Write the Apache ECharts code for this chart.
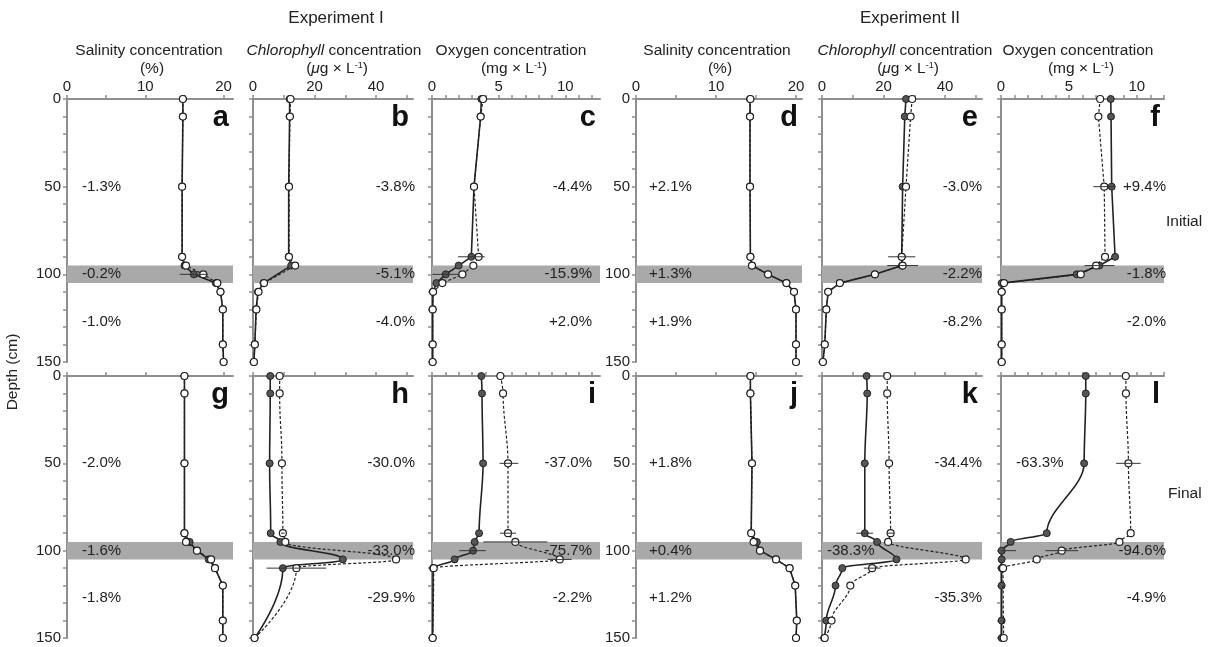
<!DOCTYPE html>
<html><head><meta charset="utf-8">
<script src="https://cdn.jsdelivr.net/npm/echarts@6/dist/echarts.min.js"></script>
<style>html,body{margin:0;padding:0;background:#fff}#c{width:1209px;height:647px}</style>
</head><body><div id="c"></div>
<script>
// ---------------- DATA ----------------
const depths = [0, 10, 50, 90, 95, 100, 105, 110, 120, 140, 150];
// solid line = filled markers, dashed line = open markers (null = no sample)
const aSolid = [14.8, 14.8, 14.7, 14.7, 15.0, 16.2, 19.0, 19.6, 19.9, 19.9, 20.0];
const aDash  = [14.8, 14.8, 14.7, 14.7, 15.2, 17.4, 19.2, 19.6, 19.9, 19.9, 20.0];
const bSolid = [11.9, 11.9, 11.6, 11.6, 12.4, null, 3.4, 1.6, 1.0, 0.6, 0.3];
const bDash  = [12.2, 12.0, 11.7, 11.7, 13.7, null, 3.6, 1.8, 1.1, 0.6, 0.3];
const cSolid = [3.7, 3.65, 3.15, 2.95, 2.0, 1.03, 0.33, 0.08, 0.05, 0.05, 0.05];
const cDash  = [3.83, 3.65, 3.15, 3.5, 3.1, 2.28, 0.78, 0.08, 0.05, 0.05, 0.05];
const dSolid = [14.25, 14.25, 14.25, 14.3, 14.5, 16.5, 18.8, 19.75, 20.0, 20.0, 20.0];
const dDash  = [14.3, 14.25, 14.25, 14.3, 14.5, 16.5, 18.8, 19.75, 20.0, 20.0, 20.0];
const eSolid = [27.3, 26.9, 26.2, 25.9, 26.0, 17.2, 5.8, 2.0, 1.4, 0.9, 0.3];
const eDash  = [29.3, 28.8, 27.3, 25.9, 26.2, 17.2, 5.8, 2.0, 1.4, 0.9, 0.3];
const fSolid = [8.08, 8.1, 8.15, 8.4, 7.25, 5.58, 0.05, 0.05, 0.05, 0.05, 0.05];
const fDash  = [7.3, 7.17, 7.6, 7.66, 7.0, 5.87, 0.22, 0.05, 0.05, 0.05, 0.05];
const gSolid = [15.0, 15.0, 15.0, 15.0, 15.66, 16.6, 18.1, 18.9, 19.9, 19.9, 19.9];
const gDash  = [15.0, 15.0, 15.0, 15.0, 15.2, 16.6, 18.4, 18.9, 19.9, 19.9, 19.9];
const hSolid = [5.6, 5.6, 5.4, 5.75, 8.9, null, 29.2, 9.7, null, null, 0.5];
const hDash  = [8.66, 8.66, 9.4, 9.7, 10.5, null, 46.5, 14.1, null, null, 0.5];
const iSolid = [3.7, 3.75, 3.83, 3.53, 3.2, 3.08, 1.7, 0.08, null, null, 0.05];
const iDash  = [5.13, 5.33, 5.7, 5.7, 6.25, null, 9.58, 0.13, null, null, 0.05];
const jSolid = [14.3, 14.3, 14.5, 14.4, 15.1, 15.5, 17.5, 19.2, 19.9, 20.1, 20.0];
const jDash  = [14.3, 14.3, 14.5, 14.4, 14.7, 15.5, 17.5, 19.2, 19.9, 20.1, 20.0];
const kSolid = [14.5, 14.7, 13.9, 13.9, 17.9, null, 24.2, 6.6, 4.4, 1.4, 0.7];
const kDash  = [21.2, 21.2, 21.8, 22.3, 21.5, null, 46.7, 16.3, 9.2, 3.1, 0.9];
const lSolid = [6.24, 6.24, 6.12, 3.37, 0.71, 0.05, 0.05, 0.05, 0.05, 0.05, 0.05];
const lDash  = [9.19, 9.2, 9.38, 9.55, 8.72, 4.47, 2.63, 0.15, null, null, 0.2];

// error bars: [panel, depth, centre, half-width]
const errBars = [
  [0, 100, 16.2, 1.8],
  [2, 90, 2.95, 1.0], [2, 100, 1.03, 1.0],
  [4, 90, 25.9, 4.4], [4, 95, 26.2, 5.0],
  [5, 50, 7.6, 0.8], [5, 95, 7.25, 1.1],
  [7, 90, 9.7, 0.6], [7, 110, 14.1, 9.7],
  [8, 50, 5.77, 0.7], [8, 90, 5.7, 0.6], [8, 95, 6.25, 2.4], [8, 100, 3.05, 1.0], [8, 105, 9.58, 0.9],
  [10, 90, 13.9, 2.7], [10, 90, 22.3, 1.2], [10, 110, 16.3, 2.7],
  [11, 50, 9.38, 0.9], [11, 100, 4.47, 1.2], [11, 100, 0.3, 0.8]
];

const panelLetters = ['a','b','c','d','e','f','g','h','i','j','k','l'];
const pctTop = ['-1.3%','-3.8%','-4.4%','+2.1%','-3.0%','+9.4%','-2.0%','-30.0%','-37.0%','+1.8%','-34.4%','-63.3%'];
const pctMid = ['-0.2%','-5.1%','-15.9%','+1.3%','-2.2%','-1.8%','-1.6%','-33.0%','-75.7%','+0.4%','-38.3%','-94.6%'];
const pctBot = ['-1.0%','-4.0%','+2.0%','+1.9%','-8.2%','-2.0%','-1.8%','-29.9%','-2.2%','+1.2%','-35.3%','-4.9%'];
const colTitles = ['Salinity concentration','{i|Chlorophyll} concentration','Oxygen concentration',
                   'Salinity concentration','{i|Chlorophyll} concentration','Oxygen concentration'];
const colUnits = ['(%)','({i|μ}g × L{s|-1})','(mg × L{s|-1})','(%)','({i|μ}g × L{s|-1})','(mg × L{s|-1})'];
const expTitles = ['Experiment I', 'Experiment II'];
const rowTitles = ['Initial', 'Final'];
const depthTitle = 'Depth (cm)';
const xMax = [21.2, 52, 12.6, 20.75, 52, 12];
const xTickStep = [5, 10, 1, 5, 10, 1];
const xLabelStep = [10, 20, 5, 10, 20, 5];

// ---------------- LAYOUT ----------------
const FONT = '"Liberation Sans", Arial, Helvetica, sans-serif';
const cols = [{left:67,width:166},{left:253,width:160},{left:432,width:168},{left:636,width:166},{left:822,width:160},{left:1001,width:163}];
const rows = [{top:99,height:263},{top:376,height:262}];
const solids = [aSolid,bSolid,cSolid,dSolid,eSolid,fSolid,gSolid,hSolid,iSolid,jSolid,kSolid,lSolid];
const dashes = [aDash,bDash,cDash,dDash,eDash,fDash,gDash,hDash,iDash,jDash,kDash,lDash];
const smoothPanels = {7:0.45, 8:0.35, 10:0.35, 11:0.35};
const pctAnchor = [['L','L','L'],['R','R','R'],['R','R','R'],['L','L','L'],['R','R','R'],['R','R','R'],
                   ['L','L','L'],['R','R','R'],['R','R','R'],['L','L','L'],['R','L','R'],['L','R','R']];
const leftOff = [15, 5, 5, 13, 5, 15];
const rightOff = [0, 2, -8, 0, 0, 2];

function range(max, step){ const a=[]; for(let v=0; v<=max+1e-9; v+=step) a.push(+v.toFixed(6)); return a; }
function pairs(vals){ const out=[]; vals.forEach((v,i)=>{ if(v!==null) out.push([v, depths[i]]); }); return out; }

const grids=[], xAxes=[], yAxes=[], series=[], graphics=[];
const axisGray = '#8f8f8f';
for (let r=0;r<2;r++) for (let c=0;c<6;c++){
  const idx=r*6+c;
  grids.push({left:cols[c].left, top:rows[r].top, width:cols[c].width, height:rows[r].height, show:false, outerBoundsMode:'none', containLabel:false});
  xAxes.push({
    type:'value', gridIndex:idx, position:'top', min:0, max:xMax[c], interval:xTickStep[c],
    splitLine:{show:false},
    axisLine:{show:true, onZero:false, lineStyle:{color:axisGray, width:2}},
    axisTick:{show:true, length:4, lineStyle:{color:axisGray, width:1.5}, customValues: range(xMax[c], xTickStep[c])},
    axisLabel:{show: r===0, margin:5, color:'#222', fontSize:15, fontFamily:FONT,
      customValues: range(xMax[c], xLabelStep[c]),
      formatter: v => (Math.abs(v % xLabelStep[c])<1e-6 ? String(v) : '')}
  });
  yAxes.push({
    type:'value', gridIndex:idx, inverse:true, min:0, max:150, interval:10,
    splitLine:{show:false},
    axisLine:{show:true, onZero:false, lineStyle:{color:axisGray, width:2}},
    axisTick:{show:true, length:4, lineStyle:{color:axisGray, width:1.5}},
    axisLabel:{show: c===0 || c===3, margin:6, color:'#222', fontSize:15, fontFamily:FONT,
      formatter: v => (v % 50 === 0 ? String(v) : '')}
  });
  const sm = smoothPanels[idx] || 0;
  series.push({
    type:'line', xAxisIndex:idx, yAxisIndex:idx, data:pairs(solids[idx]), z:3,
    symbol:'circle', symbolSize:7, smooth:sm, smoothMonotone: sm ? 'y' : undefined,
    itemStyle:{color:'#555', borderColor:'#222', borderWidth:1},
    lineStyle:{color:'#222', width:1.6}, animation:false, silent:true,
    markArea:{silent:true, itemStyle:{color:'#a9a9a9', opacity:1}, data:[[{yAxis:95},{yAxis:105}]]}
  });
  series.push({
    type:'line', xAxisIndex:idx, yAxisIndex:idx, data:pairs(dashes[idx]), z:4,
    symbol:'circle', symbolSize:7, smooth:sm, smoothMonotone: sm ? 'y' : undefined,
    itemStyle:{color:'#fff', borderColor:'#222', borderWidth:1.2},
    lineStyle:{color:'#222', width:1.2, type:[3,2]}, animation:false, silent:true
  });
  const eb = errBars.filter(e=>e[0]===idx).map(e=>[e[2], e[1], e[3]]);
  if (eb.length) series.push({
    type:'custom', xAxisIndex:idx, yAxisIndex:idx, data:eb, z:5, silent:true, animation:false,
    encode:{x:0, y:1},
    renderItem:(params, api)=>{
      const c0=api.value(0), d=api.value(1), h=api.value(2);
      const p1=api.coord([Math.max(0,c0-h), d]), p2=api.coord([c0+h, d]);
      return {type:'line', shape:{x1:p1[0],y1:p1[1],x2:p2[0],y2:p2[1]}, style:{stroke:'#333', lineWidth:1}};
    }
  });
  graphics.push({type:'text', x:cols[c].left+cols[c].width-4, y:rows[r].top+19, z:10,
    style:{text:panelLetters[idx], font:'bold 29px '+FONT, fill:'#111', textAlign:'right', textVerticalAlign:'middle'}});
  [[pctTop,50],[pctMid,100],[pctBot,127]].forEach(([arr,dep],k)=>{
    const a = pctAnchor[idx][k];
    const x = a==='L' ? cols[c].left+leftOff[c] : cols[c].left+cols[c].width+rightOff[c];
    graphics.push({type:'text', x:x, y:rows[r].top+dep/150*rows[r].height, z:10,
      style:{text:arr[idx], font:'15px '+FONT, fill:'#222', textAlign: a==='L'?'left':'right', textVerticalAlign:'middle'}});
  });
}
const colCenters=[149, 334, 511, 717, 905, 1078];
for (let c=0;c<6;c++){
  graphics.push({type:'text', x:colCenters[c], y:51, style:{text:colTitles[c], font:'15.5px '+FONT, fill:'#222',
    textAlign:'center', textVerticalAlign:'middle', rich:{i:{fontStyle:'italic', fontSize:15.5, fontFamily:FONT}}}});
  graphics.push({type:'text', x:colCenters[c]+3, y:69, style:{text:colUnits[c], font:'15.5px '+FONT, fill:'#222',
    textAlign:'center', textVerticalAlign:'middle',
    rich:{i:{fontStyle:'italic', fontSize:15.5, fontFamily:FONT}, s:{fontSize:9, fontFamily:FONT, verticalAlign:'top'}}}});
}
graphics.push({type:'text', x:336, y:18, style:{text:expTitles[0], font:'17px '+FONT, fill:'#222', textAlign:'center', textVerticalAlign:'middle'}});
graphics.push({type:'text', x:910, y:18, style:{text:expTitles[1], font:'17px '+FONT, fill:'#222', textAlign:'center', textVerticalAlign:'middle'}});
graphics.push({type:'text', x:1166, y:222, style:{text:rowTitles[0], font:'15.5px '+FONT, fill:'#222', textAlign:'left', textVerticalAlign:'middle'}});
graphics.push({type:'text', x:1168, y:494, style:{text:rowTitles[1], font:'15.5px '+FONT, fill:'#222', textAlign:'left', textVerticalAlign:'middle'}});
graphics.push({type:'text', x:13, y:372, rotation:Math.PI/2, style:{text:depthTitle, font:'15.5px '+FONT, fill:'#222', textAlign:'center', textVerticalAlign:'middle'}});

const chart = echarts.init(document.getElementById('c'), null, {renderer:'canvas'});
chart.setOption({
  backgroundColor:'#fff', animation:false,
  grid:grids, xAxis:xAxes, yAxis:yAxes, series:series, graphic:graphics
});
</script></body></html>
